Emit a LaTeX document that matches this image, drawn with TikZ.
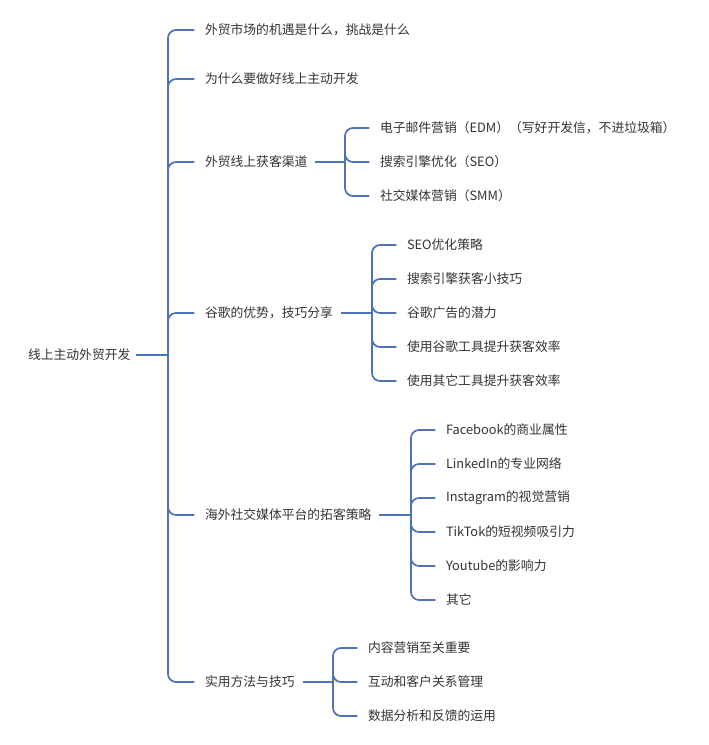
\documentclass[tikz,border=0pt]{standalone}
\usepackage{fontspec}
\setmainfont{Noto Sans CJK SC}
\begin{document}
\begin{tikzpicture}[x=0.75pt,y=-0.75pt,
  t/.style={anchor=west,inner sep=0pt,outer sep=0pt,text=black!80,font=\fontsize{9.6pt}{11pt}\selectfont},
  ln/.style={draw=blue!45!black!45!cyan!0,line width=1.4pt},
  ]
\definecolor{lc}{HTML}{4E72B8}
\tikzset{ln/.style={draw=lc,line width=1.3pt,rounded corners=6pt}}
\useasboundingbox (0,0) rectangle (709,745);
\node[t] (r) at (28,355) {线上主动外贸开发};
\node[t] (a1) at (205,30) {外贸市场的机遇是什么，挑战是什么};
\node[t] (a2) at (205,79) {为什么要做好线上主动开发};
\node[t] (a3) at (205,162) {外贸线上获客渠道};
\node[t] (a4) at (205,313) {谷歌的优势，技巧分享};
\node[t] (a5) at (205,515) {海外社交媒体平台的拓客策略};
\node[t] (a6) at (205,682) {实用方法与技巧};
\coordinate (T) at (168,355);
\draw[ln] (r.east) ++(6,0) -- (T);
\foreach \n in {a1,a2,a3,a4,a5,a6}{\draw[ln] (T) |- ([xshift=-8]\n.west);}
% a3
\node[t] (b1) at (380,128) {电子邮件营销（EDM）（写好开发信，不进垃圾箱）};
\node[t] (b2) at (380,162) {搜索引擎优化（SEO）};
\node[t] (b3) at (380,196) {社交媒体营销（SMM）};
\coordinate (T3) at (345,162);
\draw[ln] ([xshift=6]a3.east) -- (T3);
\foreach \n in {b1,b2,b3}{\draw[ln] (T3) |- ([xshift=-8]\n.west);}
% a4
\node[t] (c1) at (407,245) {SEO优化策略};
\node[t] (c2) at (407,279) {搜索引擎获客小技巧};
\node[t] (c3) at (407,313) {谷歌广告的潜力};
\node[t] (c4) at (407,347) {使用谷歌工具提升获客效率};
\node[t] (c5) at (407,381) {使用其它工具提升获客效率};
\coordinate (T4) at (372,313);
\draw[ln] ([xshift=6]a4.east) -- (T4);
\foreach \n in {c1,c2,c3,c4,c5}{\draw[ln] (T4) |- ([xshift=-8]\n.west);}
% a5
\node[t] (d1) at (446,430) {Facebook的商业属性};
\node[t] (d2) at (446,464) {LinkedIn的专业网络};
\node[t] (d3) at (446,498) {Instagram的视觉营销};
\node[t] (d4) at (446,532) {TikTok的短视频吸引力};
\node[t] (d5) at (446,566) {Youtube的影响力};
\node[t] (d6) at (446,600) {其它};
\coordinate (T5) at (411,515);
\draw[ln] ([xshift=6]a5.east) -- (T5);
\foreach \n in {d1,d2,d3,d4,d5,d6}{\draw[ln] (T5) |- ([xshift=-8]\n.west);}
% a6
\node[t] (e1) at (368,648) {内容营销至关重要};
\node[t] (e2) at (368,682) {互动和客户关系管理};
\node[t] (e3) at (368,716) {数据分析和反馈的运用};
\coordinate (T6) at (333,682);
\draw[ln] ([xshift=6]a6.east) -- (T6);
\foreach \n in {e1,e2,e3}{\draw[ln] (T6) |- ([xshift=-8]\n.west);}
\end{tikzpicture}
\end{document}
